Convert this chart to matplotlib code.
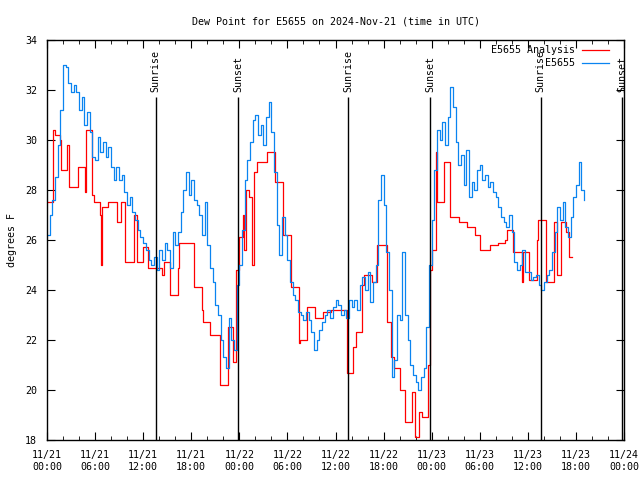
import numpy as np
import pandas as pd
import matplotlib
matplotlib.use("Agg")
import matplotlib.pyplot as plt
import matplotlib.dates as mdates
from matplotlib.lines import Line2D

plt.rcParams['font.family'] = ['DejaVu Sans Mono']

# ---------------- data ----------------
start = pd.Timestamp("2024-11-21 00:00")

# E5655 station dew point, one row per hour, samples at :00 :20 :40
station_rows = [
    [26.2, 27.0, 27.6], [28.5, 29.8, 31.2], [33.0, 32.9, 32.3], [31.9, 32.2, 31.9],
    [31.2, 31.7, 30.6], [31.1, 30.3, 29.3], [29.2, 30.1, 29.5], [29.9, 29.3, 29.7],
    [28.9, 28.4, 28.9], [28.4, 28.6, 27.9], [27.4, 27.7, 27.1], [26.8, 26.4, 26.1],
    [25.9, 25.6, 25.2], [25.0, 25.3, 24.8], [25.6, 25.2, 25.9], [25.6, 24.9, 26.3],
    [25.8, 26.3, 27.1], [28.0, 28.7, 27.8], [28.4, 27.6, 27.4], [27.0, 26.2, 27.5],
    [25.8, 24.9, 24.3], [23.4, 23.0, 22.0], [21.3, 20.9, 22.9], [22.0, 21.6, 24.2],
    [25.0, 26.4, 28.4], [29.2, 29.9, 30.8], [31.0, 30.2, 30.6], [29.8, 30.9, 31.5],
    [30.3, 28.7, 26.6], [25.4, 26.9, 26.2], [25.2, 24.3, 23.8], [23.6, 23.1, 23.0],
    [22.8, 23.1, 22.8], [22.3, 21.6, 22.0], [22.4, 22.7, 23.0], [23.2, 22.9, 23.3],
    [23.6, 23.4, 23.0], [23.2, 22.9, 23.6], [23.3, 23.6, 23.2], [24.2, 24.5, 24.0],
    [24.7, 23.5, 24.3], [25.0, 27.6, 28.6], [27.4, 25.5, 24.0], [20.5, 21.2, 23.0],
    [22.8, 25.5, 23.0], [22.0, 21.0, 20.6], [20.3, 20.0, 20.5], [20.9, 22.5, 25.0],
    [26.8, 28.8, 30.4], [30.0, 30.7, 29.8], [30.9, 32.1, 31.3], [29.9, 29.0, 29.4],
    [28.2, 29.6, 27.7], [28.3, 28.0, 28.8], [29.0, 28.4, 28.6], [28.1, 28.3, 27.9],
    [27.7, 27.3, 26.9], [26.7, 26.5, 27.0], [26.3, 25.1, 24.8], [25.0, 25.6, 24.7],
    [24.7, 24.4, 24.5], [24.6, 24.2, 24.0], [24.3, 24.6, 24.8], [25.5, 26.3, 27.3],
    [26.8, 27.5, 26.5], [26.1, 26.9, 27.7], [28.2, 29.1, 28.0], [27.6],
]
station_vals = [v for row in station_rows for v in row]
station_hours = [i / 3 for i in range(len(station_vals))]

# E5655 analysis: change points (hours after start) and values
analysis_hours = [
    0.0, 0.7, 1.0, 1.6, 1.7, 2.5, 2.7, 3.9, 4.7, 4.9, 5.6, 5.9, 6.6, 6.8, 6.9,
    7.6, 8.7, 9.2, 9.7, 10.8, 11.2, 12.0, 12.6, 14.4, 14.6, 15.4, 16.4, 16.5,
    18.4, 19.3, 19.5, 20.4, 21.6, 22.6, 23.2, 23.6, 23.9, 24.4, 24.6, 24.8,
    25.2, 25.6, 25.8, 26.2, 27.4, 28.4, 29.4, 30.4, 31.4, 31.6, 32.4, 33.4,
    34.5, 35.5, 37.4, 38.2, 38.6, 39.3, 39.6, 40.5, 41.2, 42.4, 42.9, 43.3,
    44.1, 44.7, 45.5, 45.9, 46.4, 46.8, 47.6, 47.8, 48.1, 48.5, 48.7, 49.6,
    50.3, 51.4, 52.4, 53.4, 54.0, 55.3, 56.3, 57.2, 57.4, 58.2, 59.3, 59.4,
    60.1, 61.2, 61.3, 62.3, 63.3, 63.7, 64.2, 64.8, 65.1, 65.5,
]
analysis_vals = [
    27.5, 30.4, 30.2, 30.0, 28.8, 29.8, 28.1, 28.9, 27.9, 30.4, 27.8, 27.5, 27.0, 25.0, 27.3,
    27.5, 26.7, 27.5, 25.1, 27.0, 25.1, 25.7, 24.9, 24.6, 25.1, 23.8, 24.9, 25.9,
    24.1, 23.2, 22.7, 22.2, 20.2, 22.5, 21.1, 24.8, 26.1, 27.0, 25.6, 28.0,
    27.7, 25.0, 28.7, 29.1, 29.5, 28.3, 26.2, 24.1, 21.9, 22.0, 23.3, 22.9,
    23.1, 23.2, 20.7, 21.7, 22.3, 24.2, 24.6, 24.3, 25.8, 22.7, 21.3, 20.9,
    20.0, 18.7, 19.9, 18.1, 19.1, 18.9, 21.0, 24.8, 25.6, 29.5, 27.5, 29.1,
    26.9, 26.7, 26.5, 26.2, 25.6, 25.8, 25.9, 26.0, 26.4, 25.5, 24.3, 25.5,
    24.4, 26.0, 26.8, 24.3, 26.7, 24.6, 26.7, 26.3, 25.3, 25.3,
]

sun_events = ["2024-11-21 13:35", "2024-11-21 23:50", "2024-11-22 13:36",
              "2024-11-22 23:49", "2024-11-23 13:37", "2024-11-23 23:48"]
sun_labels = ["Sunrise", "Sunset", "Sunrise", "Sunset", "Sunrise", "Sunset"]

RED = "#ff0000"
BLUE = "#0a84f0"
FS = 7.2

# ---------------- plot ----------------
station_t = start + pd.to_timedelta(station_hours, unit="h")
analysis_t = start + pd.to_timedelta(analysis_hours, unit="h")

fig = plt.figure(figsize=(6.4, 4.8), dpi=100)
ax = fig.add_axes([47 / 640, 40 / 480, 577 / 640, 400 / 480])

ax.plot(analysis_t, analysis_vals, color=RED, lw=0.9, drawstyle="steps-post")
ax.plot(station_t, station_vals, color=BLUE, lw=0.9, drawstyle="steps-post")

for t, lab in zip(sun_events, sun_labels):
    ts = pd.Timestamp(t)
    ax.vlines(ts, 18, 31.7, color="black", lw=1.0)
    ax.text(ts, 31.93, lab, rotation=90, ha="center", va="bottom", fontsize=FS)

ax.set_xlim(start, start + pd.Timedelta(hours=72))
ax.set_ylim(18, 34)
ax.set_yticks(np.arange(18, 35, 2))
ax.xaxis.set_major_locator(mdates.HourLocator(byhour=[0, 6, 12, 18]))
ax.xaxis.set_minor_locator(mdates.HourLocator(byhour=range(0, 24, 2)))
ax.xaxis.set_major_formatter(mdates.DateFormatter("%m/%d\n%H:%M"))
ax.tick_params(which="both", direction="in", top=True, right=True, labelsize=FS)
ax.tick_params(which="major", length=6)
ax.tick_params(which="minor", length=3)
ax.tick_params(axis="x", which="major", pad=7)
ax.tick_params(axis="y", which="major", pad=7)
for lbl in ax.get_xticklabels():
    lbl.set_linespacing(1.3)
for s in ax.spines.values():
    s.set_linewidth(1.0)

ax.set_ylabel("degrees F", fontsize=FS)
ax.yaxis.set_label_coords(-0.052, 0.5)
ax.set_title("Dew Point for E5655 on 2024-Nov-21 (time in UTC)", fontsize=FS, pad=11)

# legend, right-aligned text with line samples after it
for i, (lab, col) in enumerate([("E5655 Analysis", RED), ("E5655", BLUE)]):
    y = 1 - (50 + 13 * i) / 480
    fig.text(575 / 640, y, lab, ha="right", va="center", fontsize=FS)
    fig.add_artist(Line2D([582 / 640, 609 / 640], [y, y], color=col, lw=0.9,
                          transform=fig.transFigure))

fig.savefig("out.png", dpi=100)
